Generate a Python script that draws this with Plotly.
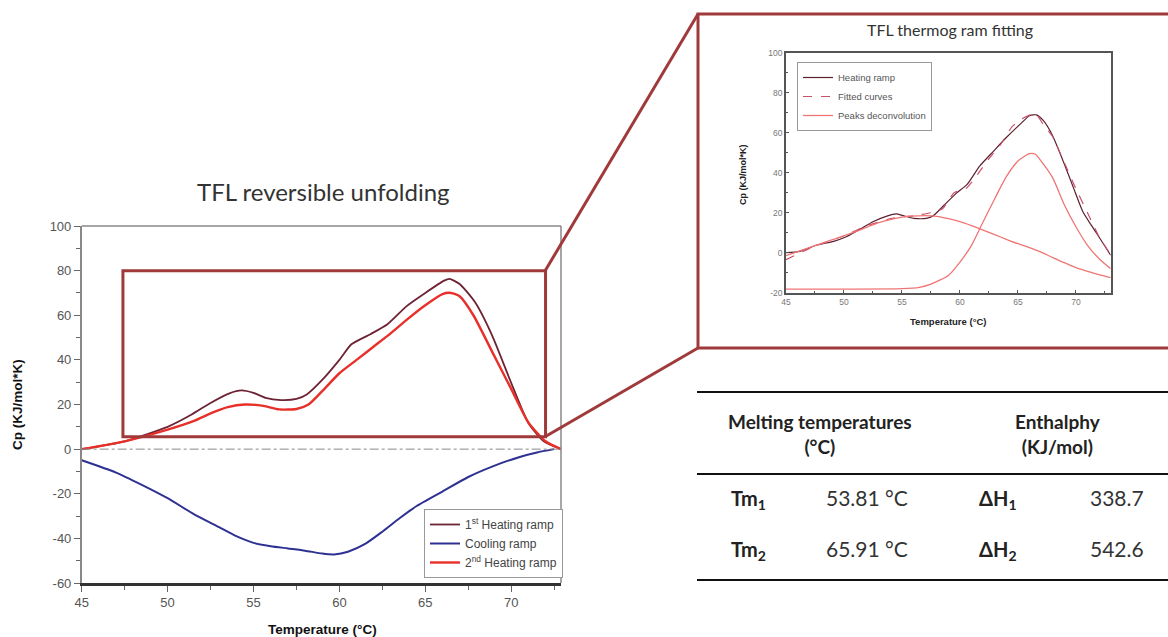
import plotly.graph_objects as go

W, H = 1168, 637
FONT = "Lato"

# ---------------- main chart data ----------------
heat1_x = [45, 47.5, 50, 51.4, 52.5, 53.6, 54.3, 55, 55.7, 56.6, 57.5, 58.1, 59, 60, 60.7,
           61.8, 62.8, 63.9, 65, 66.1, 66.4, 67, 67.9, 68.9, 70, 71, 71.9, 72.9]
heat1_y = [0, 3.5, 10, 15.5, 20.7, 25, 26.3, 25.2, 23, 22, 22.5, 24.5, 31, 40, 47,
           51.5, 56, 64, 70, 75.5, 76.3, 74, 65.8, 50.8, 29.7, 11.7, 3.5, 0]

cool_x = [45, 47, 48.5, 50, 51.5, 53, 54, 55, 56, 57, 58, 59, 59.7, 60.5, 61.5, 62.5,
          63.5, 64.5, 66, 67.5, 69, 70.5, 71.5, 72.5]
cool_y = [-5, -10.5, -16, -22, -29, -35, -39, -42, -43.5, -44.5, -45.5, -46.8, -47.2, -46,
          -42.5, -37, -31, -25.5, -19, -12.5, -7.5, -3.5, -1.5, 0]

heat2_x = [45, 47.5, 50, 51.5, 52.5, 53.5, 54.5, 55.5, 56.5, 57.5, 58.2, 59, 60, 61, 62,
           63, 64, 65, 66, 66.5, 67, 67.8, 69, 70, 71, 72, 72.9]
heat2_y = [0, 3.5, 8.7, 12.5, 16, 18.8, 20, 19.5, 17.8, 18, 20, 26, 34, 40, 46,
           52, 58.5, 64.5, 69.5, 70, 68.5, 60, 42, 27, 12, 3.5, 0]

main_names = ["1<sup>st</sup> Heating ramp", "Cooling ramp", "2<sup>nd</sup> Heating ramp"]
main_xticks = [45, 50, 55, 60, 65, 70]
main_yticks = [-60, -40, -20, 0, 20, 40, 60, 80, 100]
zoom_box_x = [47.4, 72.0]
zoom_box_y = [5.5, 80]

# ---------------- inset chart data ----------------
ins_heat_x = [45, 46.2, 47.6, 49.1, 50.2, 51.4, 52.5, 53.7, 54.5, 55.1, 56, 57.1, 57.7, 58.6,
              59.7, 60.6, 61.7, 62.9, 64, 65.2, 66, 66.6, 67.2, 68, 68.9, 69.8, 70.6, 71.8, 73]
ins_heat_y = [0, 0.7, 3.7, 5.7, 8, 11.8, 15.5, 18.3, 19.4, 18.5, 17.2, 17.2, 18.5, 23.6,
              29.8, 34, 43.3, 50.8, 57.6, 64.3, 68.5, 68.9, 66, 58.4, 45.8, 32.3, 20.5, 9.6, -1.3]

fit_x = [45, 47, 50, 52, 54, 56, 57.5, 58.5, 59.5, 60.5, 61.5, 62.5, 63.5, 64.5, 65.5,
         66.5, 67.2, 68, 69, 70, 71, 72, 73]
fit_y = [-3.5, 2, 8.5, 13.5, 17, 18.5, 20, 22, 30, 32, 39, 47, 54, 63, 67.5,
         69.5, 64, 58, 45, 32, 20, 8, -1]

peak1_x = [45, 47, 49, 51, 53, 55, 57, 58, 59, 60, 61, 62, 63, 64, 65, 66, 67, 68, 69,
           70, 71, 72, 73]
peak1_y = [-1.5, 2.5, 6.5, 10.5, 15, 17.8, 18.5, 18.2, 17, 15.5, 13.5, 11.3, 9, 6.7, 4.5,
           2.5, 0.3, -2.5, -5, -7.5, -9.3, -11, -12.5]

peak2_x = [45, 50, 55, 56.5, 57.5, 59, 60, 61, 62, 63, 64, 65, 66, 66.5, 67, 68, 69, 70,
           71, 72, 73]
peak2_y = [-18.2, -18.2, -18, -17.3, -15.7, -11.4, -4.7, 3.7, 15.5, 27, 38, 45.8, 49.5,
           49.2, 45.8, 37.4, 24, 13, 3.7, -3, -8]

ins_names = ["Heating ramp", "Fitted curves", "Peaks deconvolution"]
ins_xticks = [45, 50, 55, 60, 65, 70]
ins_yticks = [-20, 0, 20, 40, 60, 80, 100]

# ---------------- table ----------------
tab_header = ["Melting temperatures<br>(°C)", "Enthalphy<br>(KJ/mol)"]
tab_tm_labels = ["Tm<sub>1</sub>", "Tm<sub>2</sub>"]
tab_tm_values = ["53.81 °C", "65.91 °C"]
tab_dh_labels = ["ΔH<sub>1</sub>", "ΔH<sub>2</sub>"]
tab_dh_values = ["338.7", "542.6"]


def px(x):
    return x / W


def py(y):
    return 1 - y / H


def labels(vals):
    return [str(v) for v in vals]   # plain hyphen-minus like the original


fig = go.Figure()

# main traces
fig.add_trace(go.Scatter(x=heat1_x, y=heat1_y, mode="lines", name=main_names[0],
                         line=dict(color="#6e2335", width=1.8, shape="spline", smoothing=0.6),
                         xaxis="x", yaxis="y", legend="legend"))
fig.add_trace(go.Scatter(x=cool_x, y=cool_y, mode="lines", name=main_names[1],
                         line=dict(color="#2e3192", width=2, shape="spline", smoothing=0.6),
                         xaxis="x", yaxis="y", legend="legend"))
fig.add_trace(go.Scatter(x=heat2_x, y=heat2_y, mode="lines", name=main_names[2],
                         line=dict(color="#e8302a", width=2.4, shape="spline", smoothing=0.6),
                         xaxis="x", yaxis="y", legend="legend"))

# inset traces
fig.add_trace(go.Scatter(x=ins_heat_x, y=ins_heat_y, mode="lines", name=ins_names[0],
                         line=dict(color="#5b1f2e", width=1.2, shape="spline", smoothing=0.6),
                         xaxis="x2", yaxis="y2", legend="legend2"))
fig.add_trace(go.Scatter(x=fit_x, y=fit_y, mode="lines", name=ins_names[1],
                         line=dict(color="#c8506a", width=1.2, dash="dash", shape="spline", smoothing=0.6),
                         xaxis="x2", yaxis="y2", legend="legend2"))
fig.add_trace(go.Scatter(x=peak1_x, y=peak1_y, mode="lines", name=ins_names[2],
                         line=dict(color="#f07575", width=1.3, shape="spline", smoothing=0.6),
                         xaxis="x2", yaxis="y2", legend="legend2"))
fig.add_trace(go.Scatter(x=peak2_x, y=peak2_y, mode="lines", name=ins_names[2], showlegend=False,
                         line=dict(color="#f07575", width=1.3, shape="spline", smoothing=0.6),
                         xaxis="x2", yaxis="y2", legend="legend2"))

tickfont_main = dict(family="Liberation Sans", size=13, color="#555")
tickfont_ins = dict(family="Liberation Sans", size=8.5, color="#777")

fig.update_layout(
    width=W, height=H, autosize=False,
    margin=dict(l=0, r=0, t=0, b=0, pad=0),
    paper_bgcolor="white", plot_bgcolor="white",
    xaxis=dict(domain=[px(81.7), px(561)], range=[45, 72.9], anchor="y", automargin=False,
               tickmode="array", tickvals=main_xticks, ticktext=labels(main_xticks),
               ticks="outside", ticklen=6, tickcolor="#666", tickwidth=1,
               minor=dict(tickvals=[47.5, 52.5, 57.5, 62.5, 67.5, 72.5], ticks="outside",
                          ticklen=4, tickcolor="#666"),
               showline=True, linecolor="#333", linewidth=2.5, mirror=False,
               showgrid=False, zeroline=False, tickfont=tickfont_main),
    yaxis=dict(domain=[py(583), py(226)], range=[-60, 100], anchor="x", automargin=False,
               tickmode="array", tickvals=main_yticks, ticktext=labels(main_yticks),
               ticks="outside", ticklen=6, tickcolor="#666", tickwidth=1,
               minor=dict(dtick=10, ticks="outside", ticklen=4, tickcolor="#666"),
               showline=True, linecolor="#888", linewidth=1.5, mirror=False,
               showgrid=False, zeroline=False, tickfont=tickfont_main),
    xaxis2=dict(domain=[px(786), px(1110.7)], range=[45, 73], anchor="y2", automargin=False,
                tickmode="array", tickvals=ins_xticks, ticktext=labels(ins_xticks),
                ticks="inside", ticklen=3, tickcolor="#555",
                minor=dict(tickvals=[47.5, 52.5, 57.5, 62.5, 67.5, 72.5], ticks="inside",
                           ticklen=2, tickcolor="#555"),
                showline=True, linecolor="#555", linewidth=1.5, mirror=True,
                showgrid=False, zeroline=False, tickfont=tickfont_ins),
    yaxis2=dict(domain=[py(292.7), py(52.7)], range=[-20, 100], anchor="x2", automargin=False,
                tickmode="array", tickvals=ins_yticks, ticktext=labels(ins_yticks),
                ticks="inside", ticklen=3, tickcolor="#555",
                minor=dict(dtick=10, ticks="inside", ticklen=2, tickcolor="#555"),
                showline=True, linecolor="#555", linewidth=1.5, mirror=True,
                showgrid=False, zeroline=False, tickfont=tickfont_ins),
    legend=dict(x=px(424), y=py(509), xanchor="left", yanchor="top",
                bgcolor="white", bordercolor="#999", borderwidth=1,
                font=dict(family="Liberation Sans", size=12, color="#444"),
                itemwidth=30, tracegroupgap=0),
    legend2=dict(x=px(797), y=py(62), xanchor="left", yanchor="top",
                 bgcolor="white", bordercolor="#999", borderwidth=1,
                 font=dict(family="Liberation Sans", size=9.5, color="#555"),
                 itemwidth=30, tracegroupgap=0),
    showlegend=True,
)

shapes = []
# main plot frame (top & right, gray)
shapes.append(dict(type="line", xref="paper", yref="paper", x0=px(81.7), x1=px(561),
                   y0=py(226), y1=py(226), line=dict(color="#888", width=1.5)))
shapes.append(dict(type="line", xref="paper", yref="paper", x0=px(561), x1=px(561),
                   y0=py(226), y1=py(583), line=dict(color="#888", width=1.5)))
# zero dash-dot line
shapes.append(dict(type="line", xref="x", yref="y", x0=45, x1=72.9, y0=0, y1=0,
                   line=dict(color="#888", width=1, dash="dashdot")))
# zoom rectangle in data coords
shapes.append(dict(type="rect", xref="x", yref="y", x0=zoom_box_x[0], x1=zoom_box_x[1],
                   y0=zoom_box_y[0], y1=zoom_box_y[1], line=dict(color="#a03a3a", width=3)))
# connector lines
shapes.append(dict(type="line", xref="paper", yref="paper", x0=px(545), y0=py(271),
                   x1=px(698), y1=py(14), line=dict(color="#a03a3a", width=3)))
shapes.append(dict(type="line", xref="paper", yref="paper", x0=px(545), y0=py(436.7),
                   x1=px(698), y1=py(348), line=dict(color="#a03a3a", width=3)))
# inset box
shapes.append(dict(type="rect", xref="paper", yref="paper", x0=px(698), x1=px(1180),
                   y0=py(348), y1=py(14), line=dict(color="#a03a3a", width=3)))
# table rules
for yy in (392, 474, 580):
    shapes.append(dict(type="line", xref="paper", yref="paper", x0=px(697), x1=px(1168),
                       y0=py(yy), y1=py(yy), line=dict(color="#111", width=2)))
fig.update_layout(shapes=shapes)


def add_text(text, x, y, font, angle=0):
    return dict(text=text, x=px(x), y=py(y), xref="paper", yref="paper",
                xanchor="center", yanchor="middle", showarrow=False,
                textangle=angle, font=font, align="center")


ann = []
ann.append(add_text("TFL reversible unfolding", 323, 192, dict(family=FONT, size=24, color="#333")))
ann.append(add_text("Cp (KJ/mol*K)", 18, 405,
                    dict(family="Liberation Sans", size=13.5, color="#111", weight="bold"), -90))
ann.append(add_text("Temperature (°C)", 322, 629,
                    dict(family="Liberation Sans", size=13.5, color="#111", weight="bold")))
ann.append(add_text("TFL thermog ram fitting", 950, 30, dict(family=FONT, size=16, color="#333")))
ann.append(add_text("Cp (KJ/mol*K)", 743, 175,
                    dict(family="Liberation Sans", size=9, color="#222", weight="bold"), -90))
ann.append(add_text("Temperature (°C)", 948, 321,
                    dict(family="Liberation Sans", size=9.5, color="#222", weight="bold")))

hdr_font = dict(family=FONT, size=19, color="#222", weight="bold")
cell_font = dict(family=FONT, size=21, color="#333")
lbl_font = dict(family=FONT, size=20, color="#222", weight="bold")
ann.append(add_text(tab_header[0], 820, 434, hdr_font))
ann.append(add_text(tab_header[1], 1058, 434, hdr_font))
row_y = [497, 548]
for i in range(2):
    ann.append(add_text(tab_tm_labels[i], 748, row_y[i] + 2, lbl_font))
    ann.append(add_text(tab_tm_values[i], 867, row_y[i], cell_font))
    ann.append(add_text(tab_dh_labels[i], 998, row_y[i] + 2, lbl_font))
    ann.append(add_text(tab_dh_values[i], 1117, row_y[i], cell_font))
fig.update_layout(annotations=ann)

fig.write_html("out.html", config={"displayModeBar": False},
               post_script="document.body.style.margin='0';document.body.style.overflow='hidden';")
